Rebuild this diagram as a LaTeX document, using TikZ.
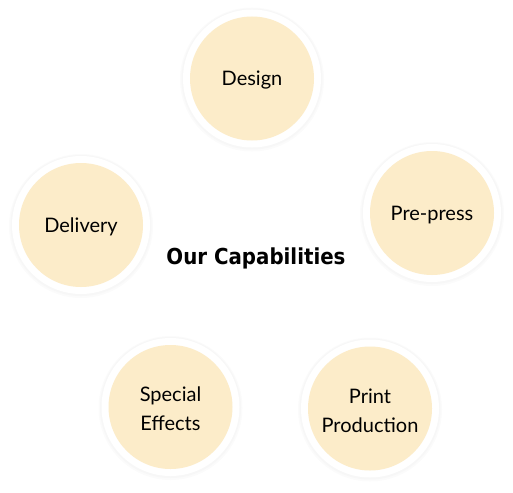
\documentclass[tikz,border=0pt]{standalone}
\usepackage{fontspec}
\setmainfont{Lato}
\newfontfamily\titlefont[FakeStretch=0.9]{DejaVu Sans}
\usepackage{tikz}
\definecolor{capfill}{RGB}{252,236,201}

\begin{document}
\begin{tikzpicture}[x=1pt,y=-1pt,
    capnode/.style={align=center,font=\fontsize{20}{29}\selectfont,text=black,yshift=-2pt}]
                \useasboundingbox (0,0) rectangle (513,492);

                % Rings with soft shadow
                \foreach \x/\y in {252/78.5,432/213,370/408.5,170.5/407,81/225} {
                    \fill[black!1.5] (\x,\y+1) circle (72);
                    \fill[black!3] (\x,\y+0.5) circle (70.5);
                    \fill[white] (\x,\y) circle (69);
                    \fill[capfill] (\x,\y) circle (62);
                }

                % Labels
                \node[capnode] (design) at (252,78.5) {Design};
                \node[capnode] (prepress) at (432,213) {Pre-press};
                \node[capnode] (print) at (370,408.5) {Print\\Production};
                \node[capnode] (effects) at (170.5,407) {Special\\Effects};
                \node[capnode] (delivery) at (81,225) {Delivery};

                \node[font=\titlefont\bfseries\fontsize{22}{26}\selectfont] (title) at (256,258) {Our Capabilities};
            \end{tikzpicture}
\end{document}
